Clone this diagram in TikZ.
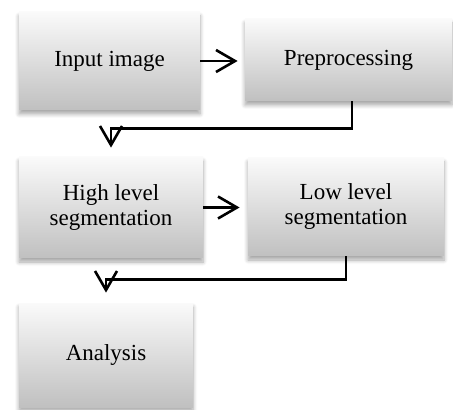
\documentclass[tikz,border=0pt]{standalone}
\usepackage{fontspec}
\setmainfont{Liberation Serif}
\usetikzlibrary{arrows.meta,shadows.blur}
\definecolor{boxtop}{RGB}{250,250,250}
\definecolor{boxbot}{RGB}{192,192,192}
\tikzset{
  box/.style={rectangle, inner sep=0pt, align=center, top color=boxtop, bottom color=boxbot,
    blur shadow={shadow xshift=0pt, shadow yshift=-2pt, shadow blur radius=2pt, shadow blur steps=6, shadow opacity=35},
    font=\fontsize{11.5pt}{12.5pt}\selectfont},
  conn/.style={line width=1.3pt, -{Straight Barb[length=9.5pt,width=11pt]}},
}
\begin{document}
\begin{tikzpicture}[x=0.5pt,y=-0.5pt]
\useasboundingbox (0,0) rectangle (453,410);
\node[box, minimum width=90.5pt, minimum height=49pt] (inp) at (109.5,61) {Input image};
\node[box, minimum width=103.5pt, minimum height=41pt] (pre) at (348.5,60) {Preprocessing};
\node[box, minimum width=92pt, minimum height=50.5pt] (hls) at (111,207.5) {High level\\segmentation};
\node[box, minimum width=98pt, minimum height=49pt] (lls) at (346,207) {Low level\\segmentation};
\node[box, minimum width=87pt, minimum height=52pt] (ana) at (106,355) {Analysis};
\draw[conn, shorten >=3.5pt] (inp.east) -- (pre.west |- inp.east);
\draw[conn, shorten >=4pt] (hls.east) -- (lls.west |- hls.east);
\draw[conn, shorten >=4.5pt] ([xshift=1.75pt]pre.south) -- ++(0,27) -| (hls.north);
\draw[conn, shorten >=5pt] (lls.south) -- ++(0,23) -| (ana.north);
\end{tikzpicture}
\end{document}
